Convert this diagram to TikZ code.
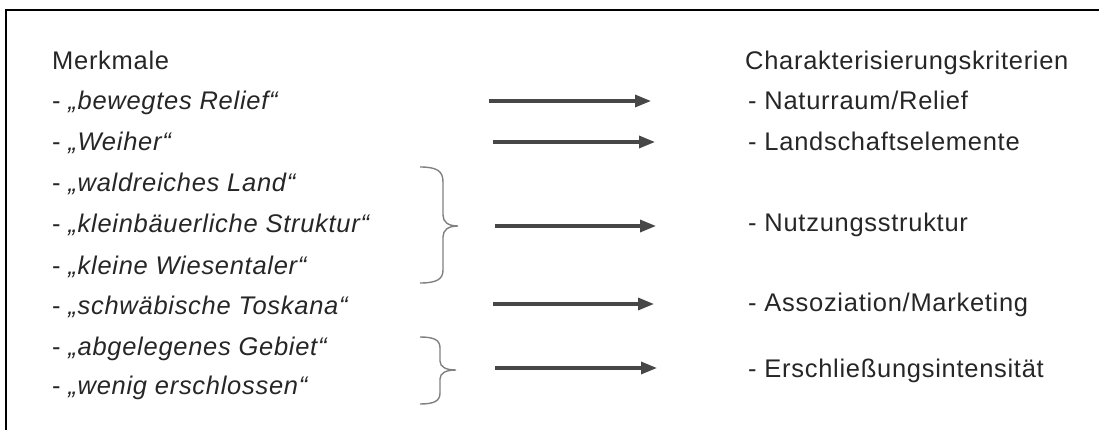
\documentclass[tikz,border=0pt]{standalone}
\usepackage{fontspec}
\setmainfont{Liberation Sans}[LetterSpace=2.8]
\usetikzlibrary{arrows.meta}
\begin{document}
\begin{tikzpicture}[x=1pt,y=-1pt,
  txt/.style={anchor=base west,inner sep=0pt,font=\fontsize{25.5}{30}\selectfont,text=black!85},
  arr/.style={draw=black!72,line width=3.2pt,-{Triangle[length=16pt,width=12pt]}},
  brc/.style={draw=black!50,line width=1.4pt}]
\useasboundingbox (0,0) rectangle (1099,430);
\draw[line width=2pt] (6,430) -- (6,10) -- (1099,10);
% left column
\node[txt] (hl) at (52,70) {Merkmale};
\node[txt] (m1) at (52,110) {- \textit{„bewegtes Relief“}};
\node[txt] (m2) at (52,151) {- \textit{„Weiher“}};
\node[txt] (m3) at (52,192) {- \textit{„waldreiches Land“}};
\node[txt] (m4) at (52,233) {- \textit{„kleinbäuerliche Struktur“}};
\node[txt] (m5) at (52,274) {- \textit{„kleine Wiesentaler“}};
\node[txt] (m6) at (52,314) {- \textit{„schwäbische Toskana“}};
\node[txt] (m7) at (52,355) {- \textit{„abgelegenes Gebiet“}};
\node[txt] (m8) at (52,394) {- \textit{„wenig erschlossen“}};
% right column
\node[txt] (hr) at (745,70) {Charakterisierungskriterien};
\node[txt] (k1) at (748,110) {- Naturraum/Relief};
\node[txt] (k2) at (748,151) {- Landschaftselemente};
\node[txt] (k3) at (748,232) {- Nutzungsstruktur};
\node[txt] (k4) at (748,311) {- Assoziation/Marketing};
\node[txt] (k5) at (748,377) {- Erschließungsintensität};
% braces
\draw[brc] (420,167) .. controls (437,167) and (443,171) .. (443,182) -- (443,215)
  .. controls (443,222) and (448,226) .. (458,226)
  .. controls (448,226) and (443,230) .. (443,237) -- (443,270)
  .. controls (443,279) and (437,283) .. (420,283);
\draw[brc] (420,337) .. controls (434,337) and (440,340) .. (440,348) -- (440,361)
  .. controls (440,367) and (446,370) .. (456,370)
  .. controls (446,370) and (440,373) .. (440,379) -- (440,393)
  .. controls (440,401) and (434,404) .. (420,404);
% arrows
\coordinate (a1s) at (489,101); \coordinate (a1e) at (651,101);
\coordinate (a2s) at (493,142); \coordinate (a2e) at (655,142);
\coordinate (a3s) at (495,226); \coordinate (a3e) at (656,226);
\coordinate (a4s) at (493,304); \coordinate (a4e) at (654,304);
\coordinate (a5s) at (495,368); \coordinate (a5e) at (657,368);
\draw[arr] (a1s) -- (a1e);
\draw[arr] (a2s) -- (a2e);
\draw[arr] (a3s) -- (a3e);
\draw[arr] (a4s) -- (a4e);
\draw[arr] (a5s) -- (a5e);
\end{tikzpicture}
\end{document}
